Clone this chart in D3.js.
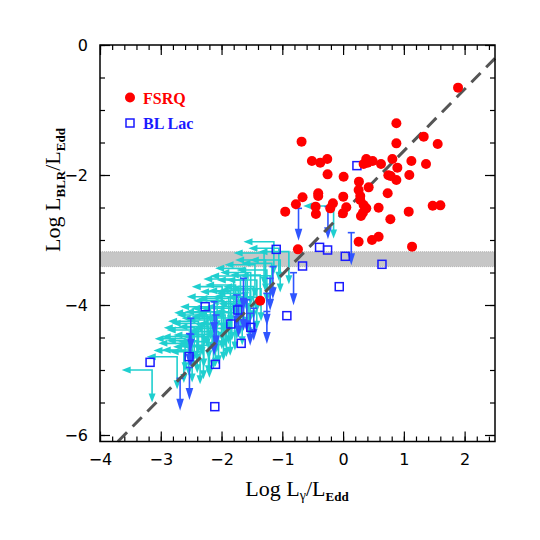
<!DOCTYPE html>
<html>
<head>
<meta charset="utf-8">
<script src="https://cdn.jsdelivr.net/npm/d3@7"></script>
<style>
    body { margin: 0; background: #fff; }
</style>
</head>
<body>
<script>
// FSRQ detections [log Lgamma/LEdd, log LBLR/LEdd]
const fsrq = [
    [1.892, -0.656], [0.877, -1.205], [-0.683, -1.487], [1.327, -1.41], [0.877, -1.513],
    [1.557, -1.523], [-0.513, -1.785], [-0.376, -1.81], [-0.26, -1.754], [0.382, -1.754],
    [0.338, -1.83], [0.404, -1.81], [0.486, -1.785], [0.624, -1.83], [0.811, -1.754],
    [1.124, -1.785], [1.365, -1.83], [0.893, -1.887], [-0.255, -1.99], [0.009, -2.026],
    [0.745, -2.005], [0.783, -2.015], [1.09, -2.0], [0.877, -2.077], [0.261, -2.102],
    [0.421, -2.19], [0.256, -2.23], [0.283, -2.323], [0.283, -2.385], [0.338, -2.461],
    [0.382, -2.513], [0.327, -2.58], [0.294, -2.631], [0.003, -2.333], [0.053, -2.497],
    [-0.002, -2.59], [-0.409, -2.282], [-0.409, -2.323], [-0.667, -2.343], [-0.776, -2.451],
    [-0.952, -2.564], [-0.452, -2.487], [-0.447, -2.6], [-0.167, -2.436], [-0.211, -2.513],
    [0.585, -2.503], [0.734, -2.282], [0.778, -2.682], [1.08, -2.564], [1.475, -2.472],
    [1.601, -2.467], [1.135, -3.102], [0.256, -3.026], [0.476, -3.0], [0.585, -2.949],
    [-0.743, -3.144], [-1.364, -3.933]
];

// BL Lac detections
const bllac = [
    [0.228, -1.856], [-1.10, -3.144], [-0.387, -3.113], [-0.255, -3.154], [0.036, -3.251],
    [-0.667, -3.4], [0.64, -3.374], [-0.063, -3.718], [-0.925, -4.164], [-2.27, -4.026],
    [-1.732, -4.077], [-1.847, -4.292], [-1.518, -4.344], [-1.677, -4.59], [-2.534, -4.795],
    [-3.176, -4.882], [-2.1, -4.913], [-2.111, -5.564]
];

// upper limits on LBLR only (blue)
const blueLimits = [
    [-0.733, -2.513], [-0.249, -2.487], [0.135, -2.887], [-0.815, -3.503], [-1.155, -3.41],
    [-1.2, -3.59], [-1.254, -3.82], [-1.254, -4.10], [-1.639, -3.59], [-1.639, -3.90],
    [-1.584, -3.92], [-1.749, -3.846], [-1.529, -4.128], [-2.122, -3.949], [-2.122, -4.28],
    [-2.089, -4.154], [-2.506, -4.205], [-2.506, -4.45], [-2.528, -4.44], [-2.528, -4.96],
    [-2.682, -5.128], [-1.72, -4.0], [-1.47, -4.05]
];

// upper limits on both quantities (cyan)
const cyanLimits = [
    [-1.139, -3.026], [-1.057, -3.128], [-1.276, -3.308], [-1.606, -3.436], [-1.688, -3.554],
    [-1.578, -3.615], [-1.77, -3.692], [-1.99, -3.718], [-1.853, -3.795], [-2.073, -3.872],
    [-1.963, -3.933], [-2.182, -4.026], [-2.1, -4.103], [-2.237, -4.154], [-2.155, -4.205],
    [-2.32, -4.282], [-2.21, -4.333], [-2.402, -4.385], [-2.292, -4.462], [-2.484, -4.487],
    [-2.539, -4.59], [-2.484, -4.692], [-2.731, -4.795], [-3.143, -5.0], [-0.892, -3.179],
    [-1.035, -3.308], [-1.172, -3.359], [-1.254, -3.462], [-1.364, -3.538], [-1.419, -3.615],
    [-1.474, -3.718], [-1.529, -3.769], [-1.584, -3.821], [-1.639, -3.872], [-1.694, -3.949],
    [-1.749, -4.026], [-1.831, -4.051], [-1.886, -4.103], [-1.941, -4.154], [-1.996, -4.179],
    [-2.078, -4.231], [-1.858, -4.282], [-1.968, -4.359], [-2.05, -4.41], [-2.133, -4.487],
    [-2.215, -4.564], [-2.298, -4.641], [-2.353, -4.718], [-0.156, -2.477],
    [-1.3, -3.2], [-1.45, -3.38], [-1.2, -3.55], [-1.52, -3.5], [-1.8, -3.6],
    [-1.35, -3.75], [-1.72, -3.78], [-1.42, -3.88], [-1.88, -3.9], [-1.55, -3.98],
    [-2.0, -4.05], [-1.66, -4.12], [-2.28, -4.12], [-1.78, -4.2], [-2.38, -4.25],
    [-1.92, -4.3], [-2.45, -4.35], [-2.1, -4.45], [-2.6, -4.52], [-2.2, -4.62],
    [-2.4, -4.55], [-2.62, -4.7]
];

const xMajor = [-4, -3, -2, -1, 0, 1, 2];
const yMajor = [0, -2, -4, -6];
const band = [-3.41, -3.18];
const fitLine = { slope: 0.95, intercept: -2.58 };
const limitLen = 0.5;

document.addEventListener("DOMContentLoaded", function () {
    const width = 540, height = 540;
    const left = 100, right = 495, top = 45, bottom = 441.5;

    const svg = d3.select("body")
        .append("svg")
        .attr("width", width)
        .attr("height", height);

    const x = d3.scaleLinear().domain([-4, 2.5]).range([left, right]);
    const y = d3.scaleLinear().domain([-6.1, 0]).range([bottom, top]);

    const plot = svg.append("g");

    // shaded band
    plot.append("rect")
        .attr("x", left)
        .attr("y", y(band[1]))
        .attr("width", right - left)
        .attr("height", y(band[0]) - y(band[1]))
        .attr("fill", "#c6c6c6");
    band.forEach(v => {
        plot.append("line")
            .attr("x1", left).attr("x2", right)
            .attr("y1", y(v)).attr("y2", y(v))
            .attr("stroke", "#999")
            .attr("stroke-width", 0.6)
            .attr("stroke-dasharray", "1,1");
    });

    function head(g, tx, ty, dir, len, hw, color) {
        // dir: "left" or "down"
        let pts;
        if (dir === "left") pts = [[tx, ty], [tx + len, ty - hw], [tx + len, ty + hw]];
        else pts = [[tx, ty], [tx - hw, ty - len], [tx + hw, ty - len]];
        g.append("polygon")
            .attr("points", pts.map(p => p.join(",")).join(" "))
            .attr("fill", color);
    }

    // cyan L-shaped limits
    const cyan = "#1fcfcf";
    const cg = plot.append("g");
    cyanLimits.forEach(d => {
        const cx = x(d[0]), cy = y(d[1]);
        const tx = x(d[0] - limitLen), ty = y(d[1] - limitLen);
        cg.append("path")
            .attr("d", `M${tx + 7},${cy}L${cx},${cy}L${cx},${ty - 7}`)
            .attr("fill", "none")
            .attr("stroke", cyan)
            .attr("stroke-width", 1.6);
        head(cg, tx, cy, "left", 9, 3.5, cyan);
        head(cg, cx, ty, "down", 9, 3.5, cyan);
    });

    // blue upper limits
    const blue = "#2f55ff";
    const bg = plot.append("g");
    blueLimits.forEach(d => {
        const cx = x(d[0]), cy = y(d[1]);
        const ty = y(d[1] - limitLen);
        bg.append("line")
            .attr("x1", cx - 3.5).attr("x2", cx + 3.5)
            .attr("y1", cy).attr("y2", cy)
            .attr("stroke", blue).attr("stroke-width", 1.6);
        bg.append("line")
            .attr("x1", cx).attr("x2", cx)
            .attr("y1", cy).attr("y2", ty - 9)
            .attr("stroke", blue).attr("stroke-width", 1.6);
        head(bg, cx, ty, "down", 12, 3.8, blue);
    });

    // dashed relation
    const x0 = (-6.1 - fitLine.intercept) / fitLine.slope;
    plot.append("line")
        .attr("x1", x(x0)).attr("y1", y(-6.1))
        .attr("x2", x(2.5)).attr("y2", y(fitLine.slope * 2.5 + fitLine.intercept))
        .attr("stroke", "#555")
        .attr("stroke-width", 3)
        .attr("stroke-dasharray", "13,8");

    // BL Lac squares
    plot.selectAll("rect.bl")
        .data(bllac)
        .enter()
        .append("rect")
        .attr("class", "bl")
        .attr("x", d => x(d[0]) - 4)
        .attr("y", d => y(d[1]) - 4)
        .attr("width", 8)
        .attr("height", 8)
        .attr("fill", "none")
        .attr("stroke", "#1a1aff")
        .attr("stroke-width", 1.5);

    // FSRQ dots
    plot.selectAll("circle.fsrq")
        .data(fsrq)
        .enter()
        .append("circle")
        .attr("class", "fsrq")
        .attr("cx", d => x(d[0]))
        .attr("cy", d => y(d[1]))
        .attr("r", 5)
        .attr("fill", "#ff0000");

    // axes (ticks inside on all sides)
    const tickFont = "'DejaVu Sans', sans-serif";
    const fmt = d3.format("d");
    const xMinor = d3.range(-4, 2.5001, 0.2).map(v => +v.toFixed(1));
    const yMinor = d3.range(-6, 0.001, 0.5).map(v => +v.toFixed(1));

    function styleAxis(g) {
        g.select(".domain").remove();
        g.selectAll("line").attr("stroke", "#000").attr("stroke-width", 1.2);
        g.selectAll("text").attr("font-family", tickFont).attr("font-size", 16).attr("fill", "#000");
    }

    svg.append("g").attr("transform", `translate(0,${bottom})`)
        .call(d3.axisBottom(x).tickValues(xMajor).tickFormat(fmt).tickSize(-10).tickPadding(12))
        .call(styleAxis);
    svg.append("g").attr("transform", `translate(0,${bottom})`)
        .call(d3.axisBottom(x).tickValues(xMinor).tickSize(-5).tickFormat(""))
        .call(styleAxis);
    svg.append("g").attr("transform", `translate(0,${top})`)
        .call(d3.axisTop(x).tickValues(xMajor).tickSize(-10).tickFormat(""))
        .call(styleAxis);
    svg.append("g").attr("transform", `translate(0,${top})`)
        .call(d3.axisTop(x).tickValues(xMinor).tickSize(-5).tickFormat(""))
        .call(styleAxis);

    svg.append("g").attr("transform", `translate(${left},0)`)
        .call(d3.axisLeft(y).tickValues(yMajor).tickFormat(fmt).tickSize(-10).tickPadding(12))
        .call(styleAxis);
    svg.append("g").attr("transform", `translate(${left},0)`)
        .call(d3.axisLeft(y).tickValues(yMinor).tickSize(-5).tickFormat(""))
        .call(styleAxis);
    svg.append("g").attr("transform", `translate(${right},0)`)
        .call(d3.axisRight(y).tickValues(yMajor).tickSize(-10).tickFormat(""))
        .call(styleAxis);
    svg.append("g").attr("transform", `translate(${right},0)`)
        .call(d3.axisRight(y).tickValues(yMinor).tickSize(-5).tickFormat(""))
        .call(styleAxis);

    svg.append("rect")
        .attr("x", left).attr("y", top)
        .attr("width", right - left).attr("height", bottom - top)
        .attr("fill", "none")
        .attr("stroke", "#000")
        .attr("stroke-width", 1.5);

    // axis titles
    const serif = "'Liberation Serif', 'Times New Roman', serif";
    const xt = svg.append("text")
        .attr("x", 297).attr("y", 496)
        .attr("text-anchor", "middle")
        .attr("font-family", serif)
        .attr("font-size", 22);
    xt.append("tspan").text("Log  L");
    xt.append("tspan").attr("font-size", 14).attr("dy", 4).text("γ");
    xt.append("tspan").attr("dy", -4).text("/L");
    xt.append("tspan").attr("font-size", 13).attr("font-weight", "bold").attr("dy", 5).text("Edd");

    const yt = svg.append("text")
        .attr("transform", "translate(60,190) rotate(-90)")
        .attr("text-anchor", "middle")
        .attr("font-family", serif)
        .attr("font-size", 22);
    yt.append("tspan").text("Log  L");
    yt.append("tspan").attr("font-size", 13).attr("font-weight", "bold").attr("dy", 5).text("BLR");
    yt.append("tspan").attr("dy", -5).text("/L");
    yt.append("tspan").attr("font-size", 13).attr("font-weight", "bold").attr("dy", 5).text("Edd");

    // legend
    svg.append("circle")
        .attr("cx", 130).attr("cy", 97.5).attr("r", 5)
        .attr("fill", "#ff0000");
    svg.append("text")
        .attr("x", 143).attr("y", 103.5)
        .attr("font-family", serif).attr("font-size", 16).attr("font-weight", "bold")
        .attr("fill", "#ff0000")
        .text("FSRQ");
    svg.append("rect")
        .attr("x", 126).attr("y", 119).attr("width", 8).attr("height", 8)
        .attr("fill", "none").attr("stroke", "#1a1aff").attr("stroke-width", 1.5);
    svg.append("text")
        .attr("x", 143).attr("y", 129)
        .attr("font-family", serif).attr("font-size", 16).attr("font-weight", "bold")
        .attr("fill", "#1a1aff")
        .text("BL Lac");
});
</script>
</body>
</html>
